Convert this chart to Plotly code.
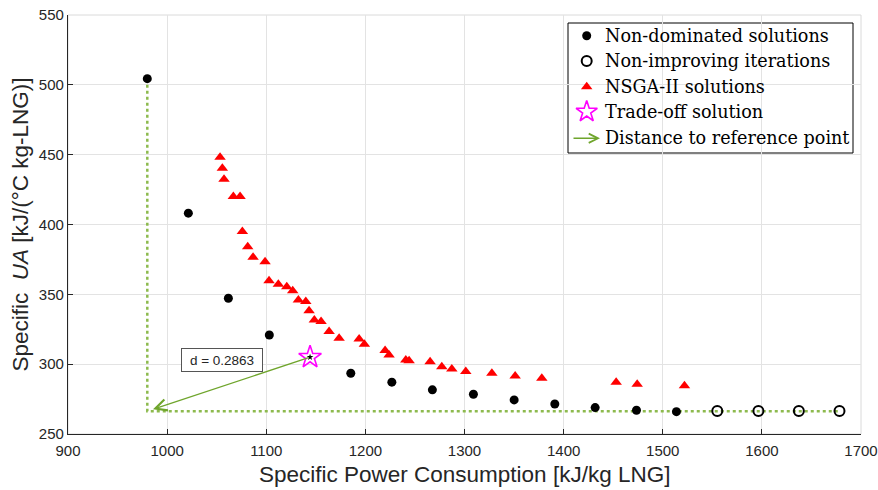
import plotly.graph_objects as go

# ---------------- data ----------------
nd_x = [980.0, 1021.4, 1061.8, 1103.1, 1185.3, 1226.7, 1267.6, 1309.0, 1350.1, 1391.1, 1431.8, 1473.5, 1513.8]
nd_y = [504.4, 408.1, 347.2, 320.9, 293.5, 287.1, 281.6, 278.5, 274.4, 271.5, 268.9, 267.0, 266.0]

ni_x = [1555.0, 1596.5, 1637.3, 1678.3]
ni_y = [266.5, 266.5, 266.5, 266.5]

ns_x = [1053.4, 1055.7, 1057.4, 1066.8, 1073.6, 1075.9, 1081.3, 1086.7, 1098.8, 1102.8,
        1112.2, 1120.7, 1126.7, 1132.4, 1139.9, 1143.2, 1148.5, 1155.3, 1163.4, 1173.5,
        1193.7, 1199.0, 1219.9, 1223.9, 1240.8, 1244.1, 1265.3, 1277.1, 1287.2, 1301.3,
        1327.6, 1351.1, 1378.0, 1453.0, 1474.2, 1521.9]
ns_y = [448.1, 440.3, 432.4, 420.0, 420.0, 394.9, 384.1, 376.6, 373.4, 359.8,
        357.2, 355.5, 352.6, 346.0, 344.8, 338.3, 331.7, 330.5, 323.3, 318.6,
        318.1, 314.3, 309.7, 306.6, 303.0, 302.5, 301.8, 298.2, 296.6, 294.7,
        293.5, 291.6, 289.9, 287.1, 285.6, 284.6]

to_x = [1144.2]
to_y = [305.0]

ref_x = 980.0
ref_y = 266.3
ref_top_y = 504.4
ref_right_x = 1678.3

distance_label = "d = 0.2863"
label_pos = (1055.7, 303.0)

x_ticks = [900, 1000, 1100, 1200, 1300, 1400, 1500, 1600, 1700]
y_ticks = [250, 300, 350, 400, 450, 500, 550]

legend_names = ["Non-dominated solutions", "Non-improving iterations", "NSGA-II solutions",
                "Trade-off solution", "Distance to reference point"]

# ---------------- styles ----------------
GREEN_DOT = "#8DBA4E"
GREEN = "#6FA52C"
AX = "#262626"
GRID = "#E3E3E3"
W, H = 878, 490
ML, MR, MT, MB = 68, 17, 15, 56
PW, PH = W - ML - MR, H - MT - MB


def px2paper(px, py):
    return (px - ML) / PW, (H - MB - py) / PH


fig = go.Figure()

# dotted reference lines
fig.add_trace(go.Scatter(
    x=[ref_x, ref_x, ref_right_x], y=[ref_top_y, ref_y, ref_y],
    mode="lines", line=dict(color=GREEN_DOT, width=2.5, dash="3px,3px"),
    showlegend=False, hoverinfo="skip"))

fig.add_trace(go.Scatter(x=ns_x, y=ns_y, mode="markers",
                         marker=dict(symbol="triangle-up", size=10, color="#FF0000"),
                         showlegend=False))
fig.add_trace(go.Scatter(x=nd_x, y=nd_y, mode="markers",
                         marker=dict(symbol="circle", size=9, color="black"),
                         showlegend=False))
fig.add_trace(go.Scatter(x=ni_x, y=ni_y, mode="markers",
                         marker=dict(symbol="circle-open", size=10, color="black",
                                     line=dict(width=2, color="black")),
                         showlegend=False))
fig.add_trace(go.Scatter(x=to_x, y=to_y, mode="markers",
                         marker=dict(symbol="star-open", size=17, color="#FF00FF",
                                     line=dict(width=1.6, color="#FF00FF")),
                         showlegend=False))
fig.add_trace(go.Scatter(x=to_x, y=to_y, mode="markers",
                         marker=dict(symbol="star", size=5, color="black"),
                         showlegend=False))

# distance arrow
fig.add_annotation(x=ref_x, y=ref_y, ax=to_x[0], ay=to_y[0], axref="x", ayref="y",
                   xref="x", yref="y", text="", showarrow=True, arrowhead=5,
                   arrowsize=1.6, arrowwidth=1.4, arrowcolor=GREEN, standoff=6)

# distance label
fig.add_annotation(x=label_pos[0], y=label_pos[1], xref="x", yref="y", text=distance_label,
                   showarrow=False, font=dict(family="Liberation Sans", size=13.5, color=AX),
                   bordercolor="#555555", borderwidth=1, bgcolor="white",
                   width=80, height=22, borderpad=0)

# ---------------- manual legend ----------------
sym_x = px2paper(586.7, 0)[0]
txt_x = px2paper(603.3, 0)[0]
rows_py = [35.7, 61.0, 86.7, 111.7, 138.3]
rows = [px2paper(0, p)[1] for p in rows_py]

fig.add_trace(go.Scatter(x=[sym_x], y=[rows[0]], xaxis="x2", yaxis="y2", mode="markers",
                         marker=dict(symbol="circle", size=9, color="black"),
                         showlegend=False, hoverinfo="skip", cliponaxis=False))
fig.add_trace(go.Scatter(x=[sym_x], y=[rows[1]], xaxis="x2", yaxis="y2", mode="markers",
                         marker=dict(symbol="circle-open", size=10, color="black",
                                     line=dict(width=2, color="black")),
                         showlegend=False, hoverinfo="skip", cliponaxis=False))
fig.add_trace(go.Scatter(x=[sym_x], y=[rows[2]], xaxis="x2", yaxis="y2", mode="markers",
                         marker=dict(symbol="triangle-up", size=10, color="#FF0000"),
                         showlegend=False, hoverinfo="skip", cliponaxis=False))
fig.add_trace(go.Scatter(x=[sym_x], y=[rows[3]], xaxis="x2", yaxis="y2", mode="markers",
                         marker=dict(symbol="star-open", size=16, color="#FF00FF",
                                     line=dict(width=1.6, color="#FF00FF")),
                         showlegend=False, hoverinfo="skip", cliponaxis=False))

bx0, by0 = px2paper(568, 153)
bx1, by1 = px2paper(853, 23)
fig.add_shape(type="rect", xref="paper", yref="paper", x0=bx0, y0=by0, x1=bx1, y1=by1,
              line=dict(color="black", width=1), fillcolor="white", layer="below")

ax_end = px2paper(600, 0)[0]
fig.add_annotation(x=ax_end, y=rows[4], xref="paper", yref="paper", ax=-28, ay=0,
                   text="", showarrow=True, arrowhead=5, arrowsize=1.3, arrowwidth=1.4,
                   arrowcolor=GREEN, standoff=0)

for name, yy in zip(legend_names, rows):
    fig.add_annotation(x=txt_x, y=yy, xref="paper", yref="paper", text=name,
                       showarrow=False, xanchor="left", yanchor="middle",
                       font=dict(family="DejaVu Serif", size=17.6, color="black"))

# frame (top/right light)
fig.add_shape(type="rect", xref="paper", yref="paper", x0=0, y0=0, x1=1, y1=1,
              line=dict(color="#DADADA", width=1), layer="below")

# axis titles
fig.add_annotation(x=0.5, y=px2paper(0, 475)[1], xref="paper", yref="paper",
                   text="Specific Power Consumption [kJ/kg LNG]", showarrow=False,
                   yanchor="middle", font=dict(family="Liberation Sans", size=22.5, color=AX))
fig.add_annotation(x=px2paper(20, 0)[0], y=0.5, xref="paper", yref="paper",
                   text="Specific  <i>UA</i> [kJ/(°C kg-LNG)]", showarrow=False,
                   textangle=-90, xanchor="center", yanchor="middle",
                   font=dict(family="Liberation Sans", size=22.5, color=AX))

fig.update_layout(
    width=W, height=H, margin=dict(l=ML, r=MR, t=MT, b=MB, autoexpand=False),
    plot_bgcolor="white", paper_bgcolor="white", showlegend=False,
    xaxis=dict(range=[900, 1700], tickvals=x_ticks, ticks="inside", ticklen=5,
               tickcolor=AX, showline=True, linecolor=AX, linewidth=1.3,
               showgrid=True, gridcolor=GRID, gridwidth=1, zeroline=False,
               automargin=False, ticklabelstandoff=3,
               tickfont=dict(family="Liberation Sans", size=15, color=AX)),
    yaxis=dict(range=[250, 550], tickvals=y_ticks, ticks="inside", ticklen=5,
               tickcolor=AX, showline=True, linecolor=AX, linewidth=1.3,
               showgrid=True, gridcolor=GRID, gridwidth=1, zeroline=False,
               automargin=False,
               tickfont=dict(family="Liberation Sans", size=15, color=AX)),
    xaxis2=dict(overlaying="x", range=[0, 1], visible=False, fixedrange=True),
    yaxis2=dict(overlaying="y", range=[0, 1], visible=False, fixedrange=True),
)

fig.write_html("out.html")
